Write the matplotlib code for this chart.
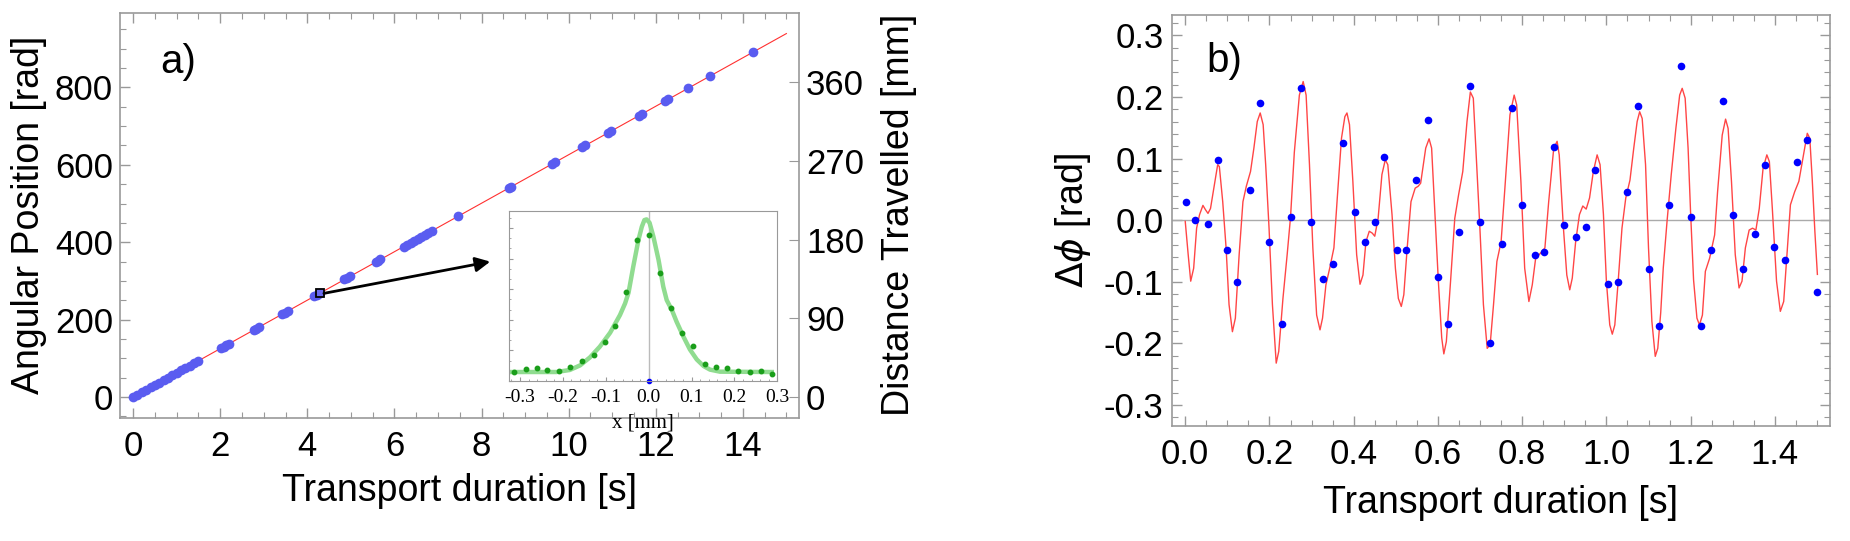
import matplotlib
matplotlib.use('Agg')
from matplotlib import pyplot as plt
from matplotlib.ticker import MultipleLocator, FormatStrFormatter

plt.rcParams['font.family'] = ['Liberation Sans', 'DejaVu Sans']

# ---- panel a: angular position vs time (clusters of points on the fitted line)
pos_t = [0.0, 0.1, 0.2, 0.3, 0.4, 0.5, 0.6, 0.7, 0.8, 0.9, 1.0, 1.1, 1.2, 1.3, 1.4, 1.5,
         2.02, 2.08, 2.14, 2.2,
         2.77, 2.83, 2.9,
         3.42, 3.48, 3.55,
         4.15, 4.22, 4.3,
         4.85, 4.92, 4.99,
         5.57, 5.63, 5.68,
         6.22, 6.3, 6.38, 6.46, 6.54, 6.62, 6.7, 6.78, 6.86,
         7.46, 8.62, 8.68, 9.62, 9.68, 10.3, 10.38, 10.9, 10.97,
         11.62, 11.68, 12.22, 12.29, 12.75, 13.25, 14.23]
pos_rad = [0, 6.3, 12.5, 18.8, 25, 31.3, 37.6, 43.8, 50.1, 56.3, 62.6, 68.9, 75.1, 81.4, 87.6, 93.9,
           126, 130, 134, 138,
           173, 177, 182,
           214, 218, 222,
           260, 264, 269,
           304, 308, 312,
           349, 352, 356,
           389, 394, 399, 404, 409, 414, 419, 424, 429,
           467, 540, 543, 602, 606, 645, 650, 682, 687,
           727, 731, 765, 769, 798, 829, 891]
fit_t = [0, 15]
fit_rad = [0, 939]
zoom_t, zoom_rad = 4.28, 268          # marked sample
arrow_t, arrow_rad = 8.2, 350
mm_per_rad = 0.443

# inset: transverse profile
prof_x = [-0.313, -0.287, -0.261, -0.236, -0.210, -0.184, -0.156, -0.128, -0.103, -0.079,
          -0.052, -0.027, 0.000, 0.026, 0.051, 0.077, 0.103, 0.131, 0.156, 0.183,
          0.209, 0.236, 0.261, 0.288]
prof_y = [0.055, 0.069, 0.075, 0.063, 0.059, 0.080, 0.116, 0.153, 0.229, 0.324,
          0.524, 0.831, 0.859, 0.633, 0.427, 0.282, 0.208, 0.100, 0.080, 0.075,
          0.057, 0.053, 0.057, 0.041]
pfit_x = [-0.323, -0.215, -0.184, -0.160, -0.137, -0.114, -0.090, -0.067, -0.055, -0.047,
          -0.036, -0.024, -0.016, -0.010, -0.005, 0.002, 0.011, 0.023, 0.034, 0.042,
          0.054, 0.065, 0.081, 0.096, 0.112, 0.128, 0.143, 0.166, 0.287]
pfit_y = [0.053, 0.053, 0.065, 0.092, 0.139, 0.202, 0.284, 0.388, 0.457, 0.520,
          0.673, 0.829, 0.908, 0.947, 0.951, 0.931, 0.849, 0.712, 0.555, 0.476,
          0.418, 0.349, 0.261, 0.186, 0.127, 0.088, 0.067, 0.055, 0.053]

# ---- panel b: phase deviation
dev_t = [0.001, 0.024, 0.054, 0.077, 0.100, 0.123, 0.153, 0.177, 0.199, 0.229,
         0.252, 0.275, 0.298, 0.327, 0.350, 0.374, 0.403, 0.426, 0.450, 0.473,
         0.502, 0.525, 0.549, 0.577, 0.601, 0.624, 0.649, 0.677, 0.700, 0.724,
         0.752, 0.776, 0.799, 0.830, 0.852, 0.876, 0.899, 0.928, 0.951, 0.974,
         1.004, 1.027, 1.050, 1.074, 1.102, 1.125, 1.149, 1.178, 1.202, 1.225,
         1.249, 1.277, 1.301, 1.324, 1.353, 1.376, 1.399, 1.423, 1.452, 1.476, 1.499]
dev_phi = [0.029, 0.001, -0.007, 0.097, -0.048, -0.100, 0.049, 0.190, -0.035, -0.168,
           0.005, 0.214, -0.003, -0.096, -0.071, 0.126, 0.013, -0.035, -0.003, 0.102,
           -0.048, -0.048, 0.065, 0.162, -0.092, -0.168, -0.019, 0.218, -0.003, -0.200,
           -0.039, 0.182, 0.025, -0.056, -0.051, 0.118, -0.008, -0.028, -0.011, 0.081,
           -0.104, -0.100, 0.045, 0.186, -0.080, -0.172, 0.025, 0.250, 0.005, -0.172,
           -0.048, 0.194, 0.009, -0.080, -0.023, 0.089, -0.043, -0.064, 0.094, 0.130, -0.116]

model_t = [0.000, 0.007, 0.013, 0.020, 0.027, 0.034, 0.042, 0.048, 0.054, 0.060,
           0.069, 0.077, 0.081, 0.089, 0.097, 0.104, 0.112, 0.119, 0.128, 0.137,
           0.145, 0.155, 0.163, 0.171, 0.178, 0.185, 0.191, 0.199, 0.207, 0.216,
           0.222, 0.232, 0.242, 0.250, 0.259, 0.271, 0.280, 0.287, 0.295, 0.303,
           0.312, 0.320, 0.326, 0.334, 0.343, 0.353, 0.361, 0.371, 0.379, 0.384,
           0.390, 0.398, 0.407, 0.415, 0.422, 0.429, 0.437, 0.444, 0.450, 0.458,
           0.467, 0.475, 0.481, 0.491, 0.499, 0.506, 0.513, 0.519, 0.527, 0.536,
           0.546, 0.553, 0.559, 0.571, 0.579, 0.585, 0.593, 0.601, 0.609, 0.614,
           0.620, 0.630, 0.640, 0.649, 0.659, 0.669, 0.677, 0.684, 0.692, 0.700,
           0.708, 0.717, 0.724, 0.732, 0.740, 0.750, 0.759, 0.771, 0.781, 0.787,
           0.797, 0.806, 0.816, 0.824, 0.832, 0.843, 0.854, 0.863, 0.875, 0.883,
           0.888, 0.898, 0.906, 0.913, 0.919, 0.927, 0.936, 0.944, 0.952, 0.960,
           0.969, 0.978, 0.985, 0.993, 1.000, 1.008, 1.014, 1.020, 1.028, 1.037,
           1.046, 1.056, 1.065, 1.073, 1.079, 1.085, 1.093, 1.100, 1.108, 1.116,
           1.122, 1.129, 1.135, 1.144, 1.154, 1.165, 1.174, 1.180, 1.187, 1.194,
           1.200, 1.207, 1.215, 1.221, 1.228, 1.235, 1.245, 1.257, 1.264, 1.275,
           1.283, 1.289, 1.297, 1.306, 1.315, 1.322, 1.330, 1.339, 1.347, 1.355,
           1.363, 1.372, 1.381, 1.387, 1.394, 1.404, 1.413, 1.421, 1.430, 1.437,
           1.447, 1.457, 1.468, 1.477, 1.483, 1.489, 1.495, 1.501]
model_phi = [-0.002, -0.056, -0.099, -0.078, -0.013, 0.009, 0.024, 0.017, 0.011, 0.019,
             0.057, 0.090, 0.087, 0.030, -0.045, -0.137, -0.181, -0.159, -0.056, 0.030,
             0.055, 0.079, 0.117, 0.160, 0.174, 0.155, 0.090, -0.013, -0.137, -0.232,
             -0.213, -0.127, -0.056, 0.005, 0.110, 0.203, 0.225, 0.203, 0.090, -0.045,
             -0.154, -0.178, -0.159, -0.105, -0.078, -0.045, 0.036, 0.133, 0.168, 0.174,
             0.155, 0.063, -0.056, -0.104, -0.089, -0.035, -0.018, -0.021, -0.026, 0.003,
             0.074, 0.098, 0.090, 0.009, -0.078, -0.127, -0.140, -0.121, -0.045, 0.030,
             0.052, 0.055, 0.060, 0.117, 0.132, 0.117, 0.009, -0.099, -0.191, -0.217,
             -0.197, -0.099, 0.003, 0.041, 0.079, 0.160, 0.208, 0.198, 0.090, -0.018,
             -0.137, -0.208, -0.202, -0.137, -0.067, -0.035, 0.052, 0.171, 0.203, 0.187,
             0.063, -0.078, -0.132, -0.105, -0.062, -0.054, -0.045, 0.030, 0.117, 0.128,
             0.106, -0.013, -0.089, -0.113, -0.094, -0.035, 0.009, 0.023, 0.018, 0.036,
             0.079, 0.106, 0.090, 0.009, -0.099, -0.170, -0.185, -0.170, -0.099, -0.013,
             0.036, 0.065, 0.117, 0.160, 0.176, 0.165, 0.090, -0.045, -0.164, -0.221,
             -0.208, -0.150, -0.078, -0.002, 0.074, 0.149, 0.203, 0.214, 0.198, 0.117,
             0.011, -0.097, -0.159, -0.170, -0.154, -0.083, -0.062, -0.024, 0.046, 0.138,
             0.164, 0.149, 0.063, -0.056, -0.110, -0.099, -0.045, -0.016, -0.013, -0.016,
             0.019, 0.084, 0.106, 0.095, 0.019, -0.099, -0.148, -0.132, -0.045, 0.025,
             0.046, 0.063, 0.106, 0.141, 0.133, 0.063, -0.018, -0.088]

frame_col = '#999999'
lab_size = 27

def style_frame(ax):
    for s in ax.spines.values():
        s.set_color(frame_col)
        s.set_linewidth(1.2)
    ax.tick_params(which='both', direction='in', color=frame_col, labelsize=25)
    ax.tick_params(which='major', length=7, width=1)
    ax.tick_params(which='minor', length=4, width=0.8)

fig = plt.figure(figsize=(18.5, 5.41), dpi=100)

# ---------------- panel a
ax = fig.add_axes([0.0649, 0.228, 0.367, 0.7486])
ax.plot(fit_t, fit_rad, c='#ff3030', lw=0.8, zorder=2)
ax.plot(pos_t, pos_rad, 'o', c='#5a5cf0', ms=7, mec='none', zorder=3)
ax.plot(zoom_t, zoom_rad, 's', ms=6, mfc='#6a6af0', mec='black', mew=1.3, zorder=4)
ax.annotate('', xy=(arrow_t, arrow_rad), xytext=(zoom_t + 0.1, zoom_rad),
            arrowprops=dict(arrowstyle='-|>', color='black', lw=2, mutation_scale=22,
                            shrinkA=0, shrinkB=0), zorder=5)
ax.set_xlim(-0.3, 15.29)
ax.set_ylim(-53, 993)
ax.xaxis.set_major_locator(MultipleLocator(2))
ax.xaxis.set_minor_locator(MultipleLocator(0.5))
ax.yaxis.set_major_locator(MultipleLocator(200))
ax.yaxis.set_minor_locator(MultipleLocator(50))
style_frame(ax)
ax.tick_params(top=True, right=False, which='both')
ax.tick_params(axis='x', pad=9)
ax.tick_params(axis='y', pad=5)
ax.set_xlabel('Transport duration [s]', fontsize=lab_size, labelpad=7)
ax.set_ylabel('Angular Position [rad]', fontsize=lab_size, labelpad=6)
ax.text(0.085, 0.878, 'a)', transform=ax.transAxes, fontsize=29, ha='center', va='center')

ax2 = ax.twinx()
ax2.set_ylim(-53 * mm_per_rad, 993 * mm_per_rad)
ax2.set_yticks([0, 90, 180, 270, 360])
for s in ax2.spines.values():
    s.set_visible(False)
ax2.tick_params(direction='in', color=frame_col, length=7, labelsize=25, pad=5)
ax2.set_ylabel('Distance Travelled [mm]', fontsize=lab_size, labelpad=12)

# inset
axi = fig.add_axes([0.2753, 0.2957, 0.1449, 0.3142])
axi.axvline(0, color='#bbbbbb', lw=1)
axi.plot(pfit_x, pfit_y, c='#90dc90', lw=3.2)
axi.plot(prof_x, prof_y, 'o', c='#1a9e1a', ms=3.2)
axi.plot([0], [0], 'o', c='blue', ms=3, clip_on=False)
axi.set_xlim(-0.325, 0.3)
axi.set_ylim(0, 1)
axi.xaxis.set_major_locator(MultipleLocator(0.1))
axi.xaxis.set_minor_locator(MultipleLocator(0.02))
axi.xaxis.set_major_formatter(FormatStrFormatter('%.1f'))
axi.yaxis.set_major_locator(MultipleLocator(0.18))
axi.yaxis.set_minor_locator(MultipleLocator(0.06))
axi.set_yticklabels([])
for s in axi.spines.values():
    s.set_color(frame_col)
    s.set_linewidth(0.8)
axi.tick_params(which='both', direction='in', color=frame_col, labelsize=14,
                labelfontfamily='Liberation Serif', pad=6)
axi.tick_params(which='major', length=3)
axi.tick_params(which='minor', length=1.5)
axi.set_xlabel('x [mm]', fontsize=15, family='Liberation Serif', labelpad=5)

# ---------------- panel b
bx = fig.add_axes([0.6335, 0.2126, 0.3557, 0.7597])
bx.axhline(0, color='#aaaaaa', lw=1)
bx.plot(model_t, model_phi, c='#ff4545', lw=1)
bx.plot(dev_t, dev_phi, 'o', c='#0000ff', ms=5.5, mec='none')
bx.set_xlim(-0.0315, 1.531)
bx.set_ylim(-0.334, 0.333)
bx.xaxis.set_major_locator(MultipleLocator(0.2))
bx.xaxis.set_minor_locator(MultipleLocator(0.05))
bx.xaxis.set_major_formatter(FormatStrFormatter('%.1f'))
bx.yaxis.set_major_locator(MultipleLocator(0.1))
bx.yaxis.set_minor_locator(MultipleLocator(0.02))
bx.yaxis.set_major_formatter(FormatStrFormatter('%.1f'))
style_frame(bx)
bx.tick_params(top=True, right=True, which='both')
bx.tick_params(axis='x', pad=9)
bx.tick_params(axis='y', pad=6)
bx.set_xlabel('Transport duration [s]', fontsize=lab_size, labelpad=10)
bx.set_ylabel(r'$\Delta\phi$ [rad]', fontsize=lab_size, labelpad=8)
bx.text(0.08, 0.888, 'b)', transform=bx.transAxes, fontsize=29, ha='center', va='center')

fig.savefig('out.png', dpi=100)
